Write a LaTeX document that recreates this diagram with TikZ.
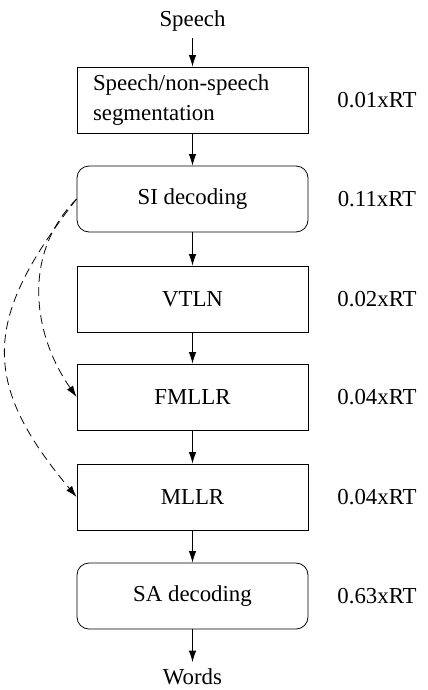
\documentclass[tikz,border=0pt]{standalone}
\usepackage{fontspec}
\setmainfont{Liberation Serif}
\usepackage{tikz}
\usetikzlibrary{arrows.meta}

\tikzset{
  stage/.style={draw,minimum width=4.62cm,minimum height=1.32cm,inner sep=0pt},
  decode/.style={stage,rounded corners=0.24cm},
  adapt/.style={dash pattern=on 5pt off 3pt},
  >={Latex[length=6.5pt,width=4.2pt]}
}

\begin{document}
\begin{tikzpicture}[line width=0.45pt,font=\fontsize{13}{17}\selectfont]
  \useasboundingbox (0,0) rectangle (8.54,-13.8);

  \node at (3.85,-0.43) (speech) {Speech};
  \node[stage,align=left,text width=3.98cm] at (3.85,-2) (seg) {Speech/non-speech\\segmentation};
  \node[decode] at ([yshift=-1.98cm]seg) (si) {SI decoding};
  \node[stage] at ([yshift=-2cm]si) (vtln) {VTLN};
  \node[stage] at ([yshift=-1.96cm]vtln) (fmllr) {FMLLR};
  \node[stage] at ([yshift=-2cm]fmllr) (mllr) {MLLR};
  \node[decode] at ([yshift=-1.98cm]mllr) (sa) {SA decoding};
  \node at (3.85,-13.53) (words) {Words};

  % real time factors
  \node at ([xshift=3.69cm]seg) (tseg) {0.01xRT};
  \node at ([xshift=3.69cm]si) (tsi) {0.11xRT};
  \node at ([xshift=3.69cm]vtln) (tvtln) {0.02xRT};
  \node at ([xshift=3.69cm]fmllr) (tfmllr) {0.04xRT};
  \node at ([xshift=3.69cm]mllr) (tmllr) {0.04xRT};
  \node at ([xshift=3.69cm]sa) (tsa) {0.63xRT};

  \draw [->] (speech.south) -- (seg.north);
  \draw [->] (seg.south) -- (si.north);
  \draw [->] (si.south) -- (vtln.north);
  \draw [->] (vtln.south) -- (fmllr.north);
  \draw [->] (fmllr.south) -- (mllr.north);
  \draw [->] (mllr.south) -- (sa.north);
  \draw [->] (sa.south) -- (words.north);

  % SI output reused for adaptation
  \draw [->,adapt] (si.west) to[out=225,in=125] (fmllr.west);
  \draw [->,adapt] (si.west) to[out=232,in=130,looseness=1.3] (mllr.west);

\end{tikzpicture}
\end{document}
